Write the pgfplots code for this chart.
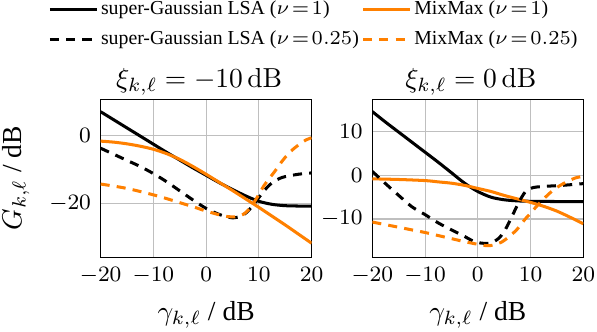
\RequirePackage{fix-cm}
\documentclass[border=0pt]{standalone}
\usepackage[no-math]{fontspec}
\setmainfont{Liberation Serif}
\usepackage{pgfplots}
\pgfplotsset{compat=1.18}
\definecolor{morange}{RGB}{255,128,0}

\pgfplotstableread{
x y
-20 7.1
-17.5 4.7
-15 2.3
-12.5 -0.1
-10 -2.5
-7.5 -4.9
-5 -7.2
-2.5 -9.5
0 -11.7
2.5 -13.9
5 -15.9
7.5 -17.8
10 -19.4
12.5 -20.3
15 -20.7
17.5 -20.8
20 -20.8
}\sgAone
\pgfplotstableread{
x y
-20 -1.6
-17.5 -1.9
-15 -2.4
-12.5 -3.1
-10 -4.0
-7.5 -5.3
-5 -7.0
-2.5 -9.1
0 -11.4
2.5 -13.8
5 -16.2
7.5 -18.7
10 -21.2
12.5 -23.8
15 -26.4
17.5 -29.1
20 -31.8
}\mmAone
\pgfplotstableread{
x y
-20 -3.7
-17.5 -5.5
-15 -7.3
-12.5 -9.1
-10 -11.2
-7.5 -13.6
-5 -16.3
-2.5 -19.0
0 -21.5
2.5 -23.3
4 -24.0
5 -24.3
6 -24.1
7 -23.5
8 -22.2
9 -20.4
10 -18.3
11 -16.3
12 -14.6
13 -13.4
14 -12.6
15 -12.1
17.5 -11.4
20 -11.0
}\sgAq
\pgfplotstableread{
x y
-20 -14.3
-17.5 -14.9
-15 -15.6
-12.5 -16.5
-10 -17.5
-7.5 -18.6
-5 -19.8
-2.5 -21.0
0 -22.3
2.5 -23.4
4 -23.9
5.5 -24.0
7 -23.3
8 -22.0
9 -19.9
10 -17.4
11 -14.7
12 -12.6
13 -10.6
14 -8.4
15 -6.4
16.5 -4.0
18 -2.2
19 -1.2
20 -0.6
}\mmAq
\pgfplotstableread{
x y
-20 14.6
-17.5 12.2
-15 9.9
-12.5 7.6
-10 5.3
-7.5 3.0
-5 0.6
-2.5 -1.8
0 -3.7
2.5 -5.0
5 -5.6
7.5 -5.85
10 -5.95
15 -6.0
20 -6.0
}\sgBone
\pgfplotstableread{
x y
-20 -0.8
-15 -0.95
-10 -1.2
-7.5 -1.5
-5 -1.8
-2.5 -2.3
0 -3.0
2.5 -3.7
5 -4.6
7.5 -5.4
10 -6.2
12.5 -7.1
15 -8.2
17.5 -9.6
20 -11.1
}\mmBone
\pgfplotstableread{
x y
-20 0.9
-17.5 -1.9
-15 -4.6
-12.5 -7.2
-10 -9.0
-7.5 -10.9
-5 -12.5
-2.5 -14.0
-1 -15.0
0.5 -15.5
2 -15.6
3 -15.2
4 -14.4
5 -12.9
6 -10.6
7 -8.1
8 -5.7
9 -3.8
10 -3.0
11 -2.7
13 -2.5
16 -2.3
20 -1.9
}\sgBq
\pgfplotstableread{
x y
-20 -10.7
-17.5 -11.3
-15 -11.9
-12.5 -12.5
-10 -13.1
-7.5 -13.8
-5 -14.5
-2.5 -15.2
0 -15.8
1.5 -16.1
3 -16.0
4.5 -15.3
6 -14.0
7.5 -12.3
9 -10.0
10 -8.7
11 -7.3
12 -6.0
13 -4.8
14 -3.7
15.5 -2.4
17 -1.4
18.5 -0.6
20 -0.2
}\mmBq

\pgfplotsset{
  every axis title shift=0pt,
  myaxis/.style={
    scale only axis, width=76.7pt, height=57.45pt,
    xmin=-20, xmax=20, xtick={-20,-10,0,10,20},
    grid=major, major tick length=0pt,
    tick label style={font=\footnotesize},
    title style={at={(axis description cs:0.467,1.11)}, anchor=center},
    xlabel style={at={(axis description cs:0.5,-0.362)}, anchor=center},
    xlabel={$\gamma_{k,\ell}$ / dB},
  },
  cs/.style={black, line width=1.1pt, smooth},
  co/.style={morange, line width=1.1pt, smooth},
  cd/.style={black, line width=1.1pt, smooth, dash pattern=on 3.3pt off 2.6pt},
  cod/.style={morange, line width=1.1pt, smooth, dash pattern=on 3.3pt off 2.6pt},
}

\begin{document}
\begin{tikzpicture}
\begin{axis}[myaxis,
  ymin=-36, ymax=10.75, ytick={-20,0},
  title={$\xi_{k,\ell} = -10\,\mathrm{dB}$},
  ylabel={$G_{k,\ell}$ / dB},
  ylabel style={at={(axis description cs:-0.402,0.5)}, anchor=center},
  legend columns=2, legend cell align=left,
  legend style={draw=none, fill=none, font=\fontsize{7.2}{8.8}\selectfont,
    nodes={inner sep=1pt}, row sep=2.5pt,
    at={(axis description cs:-0.29,1.68)}, anchor=north west,
    /tikz/every even column/.append style={column sep=0pt}},
]
\addplot[cs] table {\sgAone};
\addlegendentry{super-Gaussian LSA ($\nu\!=\!1$)}
\addplot[co] table {\mmAone};
\addlegendentry{MixMax ($\nu\!=\!1$)}
\addplot[cd] table {\sgAq};
\addlegendentry{super-Gaussian LSA ($\nu\!=\!0.25$)}
\addplot[cod] table {\mmAq};
\addlegendentry{MixMax ($\nu\!=\!0.25$)}
\end{axis}
\begin{axis}[myaxis, at={(98.8pt,0pt)}, anchor=south west,
  ymin=-18.8, ymax=17.4, ytick={-10,0,10},
  title={$\xi_{k,\ell} = 0\,\mathrm{dB}$},
]
\addplot[cs] table {\sgBone};
\addplot[co] table {\mmBone};
\addplot[cd] table {\sgBq};
\addplot[cod] table {\mmBq};
\end{axis}
\pgfresetboundingbox
\useasboundingbox (-36.6pt,-26.8pt) rectangle (180.5pt,93.6pt);
\end{tikzpicture}
\end{document}
